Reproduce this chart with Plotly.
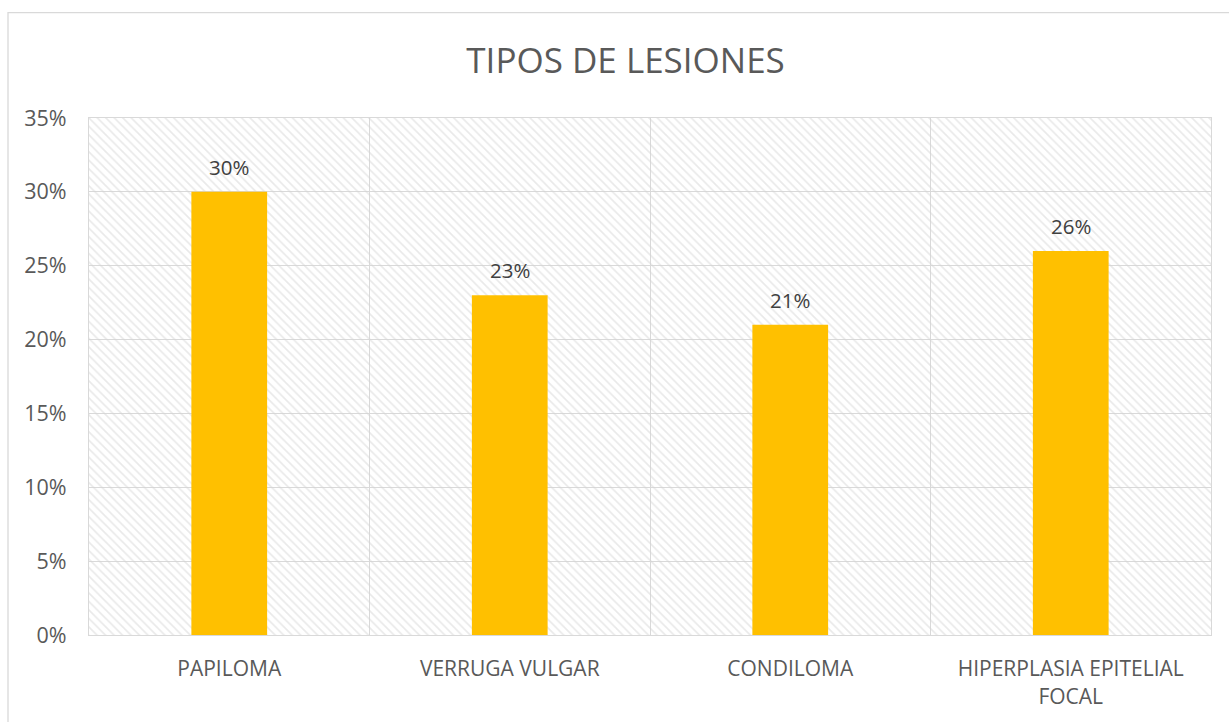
import plotly.graph_objects as go

categories = ["PAPILOMA", "VERRUGA VULGAR", "CONDILOMA", "HIPERPLASIA EPITELIAL<br>FOCAL"]
values = [0.30, 0.23, 0.21, 0.26]
y_ticks = [0, 0.05, 0.10, 0.15, 0.20, 0.25, 0.30, 0.35]
y_max = 0.35

FONT = "Open Sans"
TXT = "#595959"
GRID = "#d9d9d9"

idx = list(range(len(categories)))

fig = go.Figure()

# hatched plot-area background
fig.add_trace(go.Bar(
    x=[(len(categories) - 1) / 2], y=[y_max], width=[len(categories)],
    marker=dict(color="rgba(0,0,0,0)", line=dict(width=0),
                pattern=dict(shape="\\", fgcolor="#d4d4d4", bgcolor="rgba(0,0,0,0)",
                             size=6, solidity=0.28)),
    hoverinfo="skip", showlegend=False,
))

fig.add_trace(go.Bar(
    x=idx, y=values, width=0.27,
    marker=dict(color="#FFC000", line=dict(width=0)),
    showlegend=False,
))

for i, v in zip(idx, values):
    fig.add_annotation(x=i, y=v, text=f"{round(v*100)}%", showarrow=False,
                       yshift=25, font=dict(family=FONT, size=20.5, color="#404040"))

# outer chart border
fig.add_shape(type="rect", xref="paper", yref="paper",
              x0=-0.0722, x1=1.05, y0=-0.2, y1=1.2038,
              line=dict(color=GRID, width=1.3), fillcolor="rgba(0,0,0,0)", layer="below")

fig.update_layout(
    width=1229, height=722,
    margin=dict(l=89, r=18, t=118, b=84),
    paper_bgcolor="white", plot_bgcolor="white",
    barmode="overlay",
    font=dict(family=FONT, color=TXT, size=21),
    title=dict(text="TIPOS DE LESIONES", x=0.509, xref="container", xanchor="center",
               y=1 - 61 / 722, yref="container", yanchor="middle",
               font=dict(family=FONT, size=35, color=TXT)),
    xaxis=dict(range=[-0.5, len(categories) - 0.5], tickvals=idx, ticktext=categories,
               showgrid=False, zeroline=False, showline=True, mirror=True,
               linecolor=GRID, linewidth=1.3, ticks="", ticklabelstandoff=15,
               minor=dict(tick0=0.5, dtick=1, showgrid=True, gridcolor=GRID, gridwidth=1.3),
               tickfont=dict(family=FONT, size=21, color=TXT)),
    yaxis=dict(range=[0, y_max], tickvals=y_ticks, tickformat=".0%",
               showgrid=True, gridcolor=GRID, gridwidth=1.3, zeroline=False,
               showline=True, mirror=True, linecolor=GRID, linewidth=1.3,
               ticks="", ticklabelstandoff=17,
               tickfont=dict(family=FONT, size=21.5, color=TXT)),
)

fig.write_html("out.html")
